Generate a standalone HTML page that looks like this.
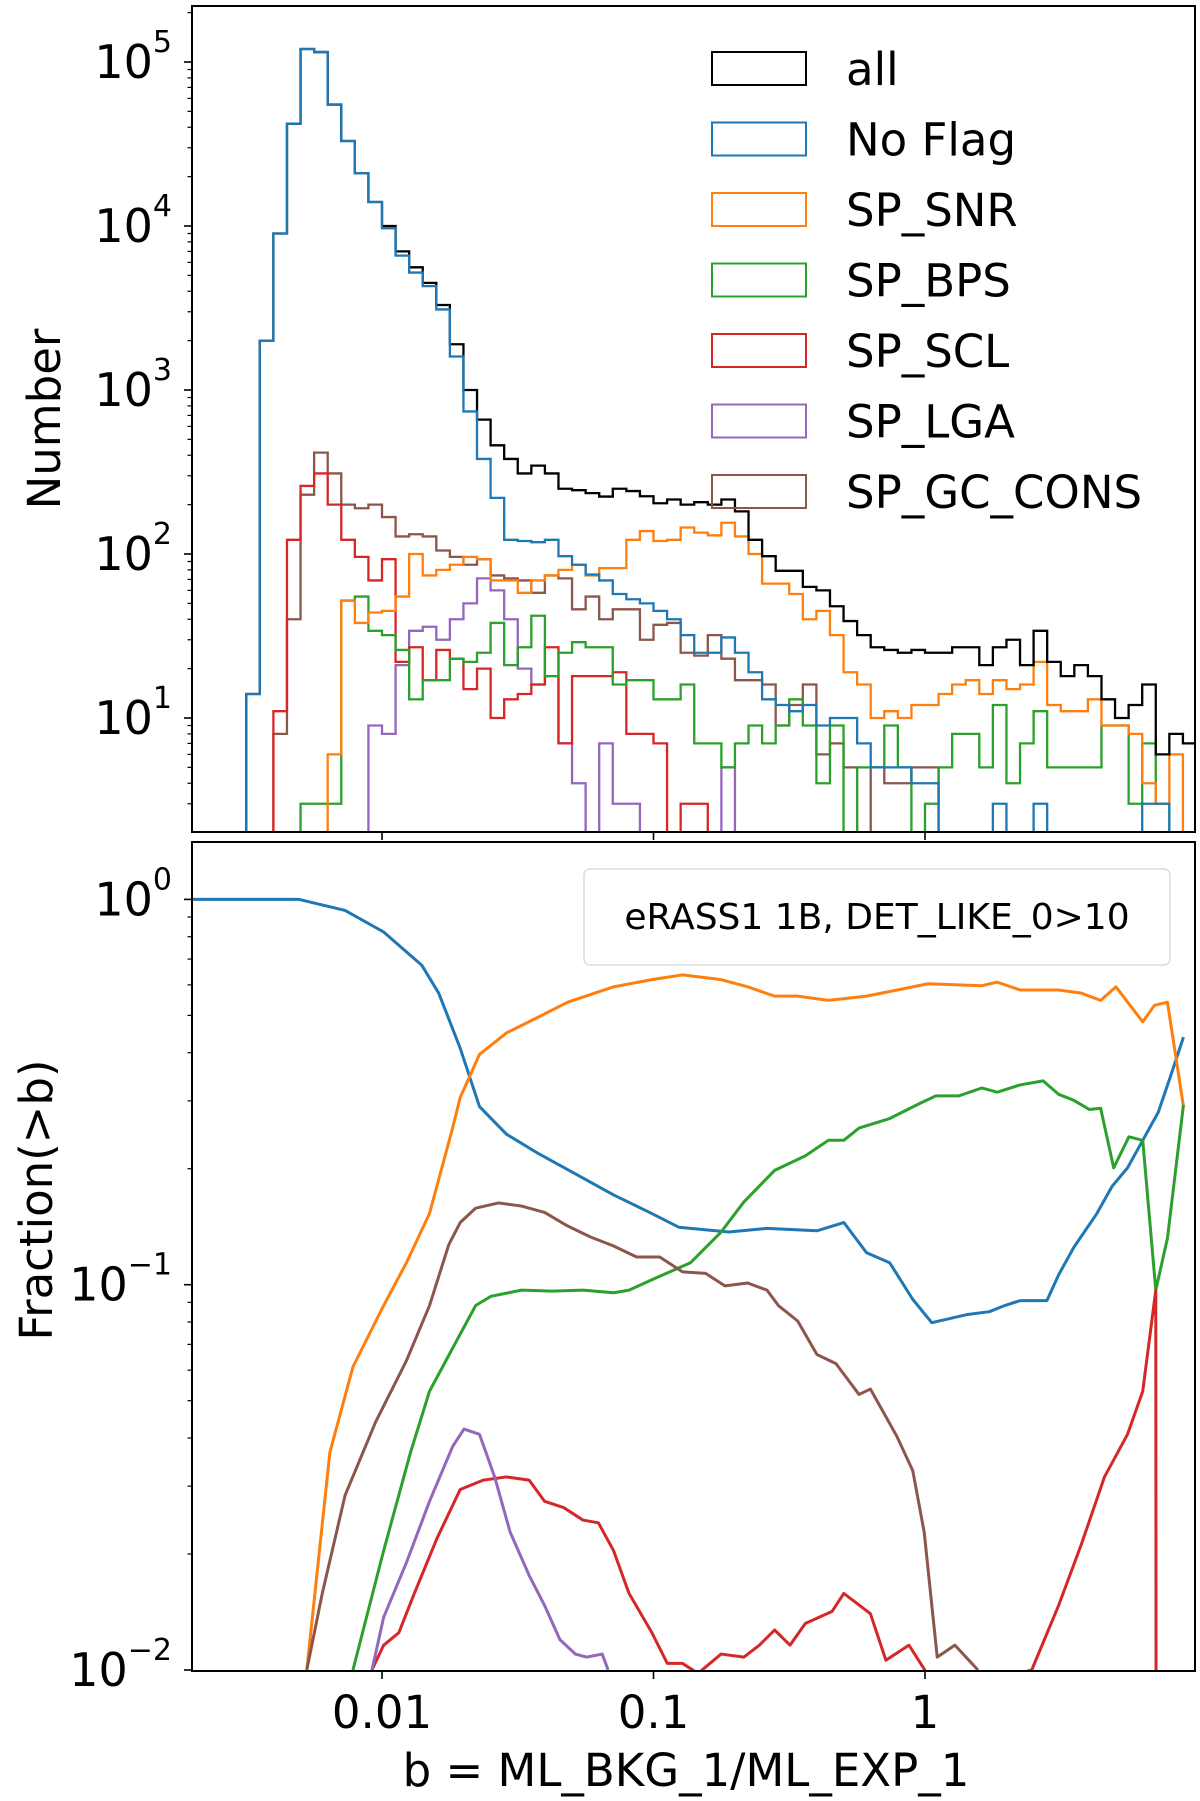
<!DOCTYPE html>
<html><head><meta charset="utf-8"><style>
body{margin:0;background:#fff;overflow:hidden;}
svg{display:block;font-family:"DejaVu Sans","Liberation Sans",sans-serif;}
</style></head><body>
<svg id="chart" width="1200" height="1801" viewBox="0 0 1200 1801"></svg>
<script>
// ---- data ----
const histEdgeStart = -2.5;      // log10(b) of first bin edge
const histBinWidth = 0.05;       // dex
const histAll   = [14,2000,9000,42000,120000,115000,55000,33000,21000,14000,10000,7000,5600,4500,3300,1900,1000,660,460,380,310,346,310,250,245,235,224,250,242,225,204,215,200,207,200,215,182,122,97,79,79,63,60,48,39,32,27,26,25,26,25,25,27,27,21,27,30,21,34,22,18,21,18,13,10,12,16,6,8,7];
const histNoFlag= [14,2000,9000,42000,120000,115000,55000,33000,21000,14000,9700,6600,5200,4300,3100,1600,740,380,220,122,120,118,122,97,86,75,69,57,53,50,45,40,32,25,25,31,25,19,13,12,11,12,9,10,10,7,5,5,5,4,4,0,0,0,0,3,0,0,3,0,0,0,0,0,0,0,3,3,0,0];
const histSNR   = [0,0,0,0,0,0,6,52,38,44,45,55,100,74,80,86,96,93,69,69,58,69,74,80,86,74,82,82,122,138,120,122,145,135,130,155,128,100,66,66,57,40,45,32,19,16,10,11,10,12,12,14,16,17,14,17,15,16,22,12,11,11,13,9,9,8,4,3,6,2];
const histBPS   = [0,0,0,0,3,3,3,52,55,34,32,26,13,17,17,23,22,25,38,21,27,42,18,25,29,27,27,16,17,17,13,13,16,7,7,5,7,9,7,9,13,9,4,9,2,5,5,9,5,2,3,5,8,8,5,12,4,7,11,5,5,5,5,9,9,3,7,3,2,2];
const histSCL   = [0,0,11,122,260,310,200,122,96,69,93,22,27,17,26,23,15,20,10,13,14,16,27,7,18,18,18,19,8,8,7,2,3,3,0,0,0,0,0,0,0,0,0,0,0,0,0,0,0,0,0,0,0,0,0,0,0,0,0,0,0,0,0,0,0,0,0,0,0,0];
const histLGA   = [0,0,0,0,0,0,0,0,0,9,8,21,34,36,30,40,50,71,60,40,20,16,18,7,4,2,7,3,3,0,0,0,0,0,0,5,0,0,0,0,0,0,0,0,0,0,0,0,0,0,0,0,0,0,0,0,0,0,0,0,0,0,0,0,0,0,0,0,0,0];
const histGC    = [0,0,8,40,230,415,310,200,190,200,168,128,132,128,105,96,86,93,74,71,69,58,74,71,46,55,40,46,46,30,37,38,25,24,32,23,17,17,16,9,12,16,6,7,5,2,5,4,4,5,5,0,0,0,0,0,0,0,0,0,0,0,0,0,0,0,0,0,0,0];

const fracNoFlagLogB = [-2.70,-2.305,-2.136,-1.994,-1.853,-1.791,-1.712,-1.641,-1.542,-1.429,-1.288,-1.147,-1.006,-0.907,-0.723,-0.582,-0.398,-0.299,-0.215,-0.130,-0.045,0.025,0.153,0.237,0.294,0.350,0.449,0.492,0.548,0.633,0.689,0.746,0.802,0.859,0.901,0.952];
const fracNoFlag     = [1.0,1.0,0.936,0.823,0.674,0.571,0.411,0.290,0.246,0.220,0.194,0.171,0.153,0.141,0.137,0.140,0.138,0.145,0.121,0.114,0.0916,0.0797,0.0836,0.0851,0.0883,0.0909,0.0909,0.106,0.125,0.153,0.180,0.201,0.237,0.280,0.342,0.439];
const fracSNRLogB = [-2.277,-2.192,-2.107,-1.994,-1.910,-1.825,-1.740,-1.712,-1.641,-1.542,-1.429,-1.316,-1.147,-1.006,-0.893,-0.751,-0.653,-0.554,-0.469,-0.356,-0.215,-0.102,0.011,0.209,0.266,0.350,0.492,0.576,0.647,0.703,0.802,0.845,0.893,0.952];
const fracSNR     = [0.01,0.0367,0.0612,0.0883,0.114,0.153,0.255,0.306,0.396,0.450,0.493,0.541,0.593,0.619,0.637,0.619,0.593,0.561,0.561,0.547,0.561,0.582,0.604,0.597,0.610,0.582,0.582,0.571,0.547,0.593,0.481,0.531,0.541,0.290];
const fracBPSLogB = [-2.107,-1.994,-1.895,-1.825,-1.740,-1.655,-1.599,-1.486,-1.373,-1.260,-1.147,-1.090,-1.006,-0.864,-0.751,-0.667,-0.554,-0.441,-0.356,-0.299,-0.243,-0.130,-0.017,0.040,0.124,0.209,0.266,0.350,0.435,0.492,0.548,0.605,0.647,0.695,0.751,0.802,0.850,0.893,0.952];
const fracBPS     = [0.01,0.0204,0.0367,0.0529,0.0684,0.0883,0.0933,0.0968,0.0962,0.0968,0.0953,0.0968,0.103,0.114,0.137,0.164,0.198,0.216,0.237,0.237,0.255,0.270,0.296,0.309,0.309,0.324,0.316,0.330,0.338,0.312,0.301,0.285,0.287,0.201,0.242,0.237,0.0968,0.132,0.293];
const fracSCLLogB = [-2.037,-1.994,-1.938,-1.881,-1.797,-1.712,-1.627,-1.542,-1.458,-1.401,-1.331,-1.260,-1.203,-1.147,-1.090,-1.006,-0.949,-0.893,-0.836,-0.751,-0.667,-0.610,-0.554,-0.497,-0.441,-0.342,-0.299,-0.201,-0.144,-0.059,0.011,0.322,0.393,0.492,0.576,0.661,0.746,0.802,0.850,0.851];
const fracSCL     = [0.01,0.0116,0.0125,0.0158,0.0220,0.0294,0.0311,0.0317,0.0311,0.0274,0.0264,0.0245,0.0241,0.0204,0.0158,0.0125,0.0104,0.0104,0.0098,0.0110,0.0108,0.0116,0.0127,0.0116,0.0132,0.0142,0.0158,0.0140,0.0106,0.0116,0.009,0.009,0.01,0.0147,0.0212,0.0317,0.0409,0.0529,0.0968,0.001];
const fracLGALogB = [-2.037,-1.994,-1.910,-1.825,-1.740,-1.698,-1.641,-1.585,-1.528,-1.458,-1.401,-1.345,-1.288,-1.246,-1.189,-1.167];
const fracLGA     = [0.01,0.0137,0.0190,0.0274,0.0380,0.0422,0.0409,0.0317,0.0228,0.0176,0.0147,0.0120,0.0110,0.0108,0.0110,0.01];
const fracGCLogB = [-2.277,-2.220,-2.136,-2.023,-1.910,-1.825,-1.754,-1.712,-1.655,-1.571,-1.486,-1.401,-1.316,-1.232,-1.147,-1.062,-0.977,-0.893,-0.808,-0.737,-0.653,-0.582,-0.540,-0.469,-0.398,-0.328,-0.243,-0.201,-0.102,-0.045,-0.003,0.045,0.110,0.195];
const fracGC     = [0.01,0.0158,0.0284,0.0441,0.0635,0.0883,0.127,0.145,0.158,0.163,0.160,0.154,0.142,0.133,0.126,0.118,0.118,0.108,0.107,0.0993,0.101,0.0968,0.0883,0.0805,0.0659,0.0624,0.0519,0.0536,0.0402,0.0329,0.0228,0.0108,0.0116,0.01];

const legendLabels = ["all","No Flag","SP_SNR","SP_BPS","SP_SCL","SP_LGA","SP_GC_CONS"];
const xTickVals = [-2,-1,0];
const xTickLabels = ["0.01","0.1","1"];
const topYTicks = [1,2,3,4,5];
const botYTicks = [0,-1,-2];

// ---- layout ----
const NS="http://www.w3.org/2000/svg";
const svg=document.getElementById('chart');
const X0=192,X1=1195;
const T={top:6,bot:832}, B={top:842,bot:1671};
const xS=l=>382+(l+2)*271.5;
const yTop=l=>Math.min(T.bot+4,62-(l-5)*164);
const yBot=l=>Math.min(B.bot+4,899.4-l*385.3);
const C={all:"#000000",nf:"#1f77b4",snr:"#ff7f0e",bps:"#2ca02c",scl:"#d62728",lga:"#9467bd",gc:"#8c564b"};
function mk(tag,attrs,parent){const e=document.createElementNS(NS,tag);for(const k in attrs)e.setAttribute(k,attrs[k]);(parent||svg).appendChild(e);return e;}

const defs=mk('defs',{});
const cp1=mk('clipPath',{id:'cTop'},defs);mk('rect',{x:X0,y:T.top,width:X1-X0,height:T.bot-T.top},cp1);
const cp2=mk('clipPath',{id:'cBot'},defs);mk('rect',{x:X0,y:B.top,width:X1-X0,height:B.bot-B.top},cp2);

// ---- top histogram ----
const gTop=mk('g',{'clip-path':'url(#cTop)'});


function histPath(vals){
  const lv=v=>v>0?Math.log10(v):-3;
  const base=T.bot+4;
  let d='M'+xS(histEdgeStart)+' '+base;
  vals.forEach((v,i)=>{const xa=xS(histEdgeStart+i*histBinWidth),xb=Math.min(X1+2,xS(histEdgeStart+(i+1)*histBinWidth)),y=yTop(lv(v));d+=' L'+xa+' '+y+' L'+xb+' '+y;});
  d+=' L'+Math.min(X1+2,xS(histEdgeStart+vals.length*histBinWidth))+' '+base;
  return d;
}
const hists=[[histGC,C.gc,'hist-sp-gc-cons'],[histLGA,C.lga,'hist-sp-lga'],[histSCL,C.scl,'hist-sp-scl'],[histBPS,C.bps,'hist-sp-bps'],[histSNR,C.snr,'hist-sp-snr'],[histAll,C.all,'hist-all'],[histNoFlag,C.nf,'hist-no-flag']];
hists.forEach(h=>{const p=mk('path',{d:histPath(h[0]),fill:'none',stroke:h[1],'stroke-width':2.3,'stroke-linejoin':'miter'},gTop);

});

// ---- bottom lines ----
const gBot=mk('g',{'clip-path':'url(#cBot)'});


const lines=[[fracNoFlagLogB,fracNoFlag,C.nf,'line-no-flag'],[fracSNRLogB,fracSNR,C.snr,'line-sp-snr'],[fracBPSLogB,fracBPS,C.bps,'line-sp-bps'],[fracSCLLogB,fracSCL,C.scl,'line-sp-scl'],[fracLGALogB,fracLGA,C.lga,'line-sp-lga'],[fracGCLogB,fracGC,C.gc,'line-sp-gc-cons']];
lines.forEach(l=>{const pts=l[0].map((x,i)=>Math.max(X0-4,xS(x))+','+yBot(Math.log10(l[1][i]))).join(' ');
const p=mk('polyline',{points:pts,fill:'none',stroke:l[2],'stroke-width':3,'stroke-linejoin':'round'},gBot);

});

// ---- axes frames & ticks ----
[T,B].forEach((P,k)=>{
  const r=mk('rect',{x:X0,y:P.top,width:X1-X0,height:P.bot-P.top,fill:'none',stroke:'#000','stroke-width':2});
  
  
  xTickVals.forEach(v=>mk('line',{x1:xS(v),x2:xS(v),y1:P.bot,y2:P.bot+8,stroke:'#000','stroke-width':1.6}));
});
function yTicks(vals,f,P,label){
  const lo=Math.min(...vals)-1,hi=Math.max(...vals)+1;
  for(let d=lo;d<=hi;d++){
    for(let m=1;m<10;m++){const y=f(d+Math.log10(m));if(y<P.top-0.5||y>P.bot+0.5)continue;
      mk('line',{x1:X0-(m===1?8:4.5),x2:X0,y1:y,y2:y,stroke:'#000','stroke-width':m===1?1.6:1.2});}
  }
  vals.forEach(v=>{const t=mk('text',{x:172,y:f(v)+16,'text-anchor':'end','font-size':46});
    
    
    const a=mk('tspan',{},t);a.textContent='10';
    const b=mk('tspan',{dy:-26,'font-size':30},t);b.textContent=(v<0?'\u2212'+(-v):''+v);});
}
yTicks(topYTicks,yTop,T,'y-top');
yTicks(botYTicks,yBot,B,'y-bottom');
xTickVals.forEach((v,i)=>{const t=mk('text',{x:xS(v),y:1728,'text-anchor':'middle','font-size':45});
  t.textContent=xTickLabels[i];
  
  });

// ---- labels ----
let t=mk('text',{x:686,y:1786,'text-anchor':'middle','font-size':45});t.textContent='b = ML_BKG_1/ML_EXP_1';

t=mk('text',{x:0,y:0,'text-anchor':'middle','font-size':45,transform:'translate(60,419) rotate(-90)'});t.textContent='Number';

t=mk('text',{x:0,y:0,'text-anchor':'middle','font-size':45,transform:'translate(52,1200) rotate(-90)'});t.textContent='Fraction(>b)';


// ---- top legend ----
const lcols=[C.all,C.nf,C.snr,C.bps,C.scl,C.lga,C.gc];
legendLabels.forEach((lab,i)=>{
  const g=mk('g',{});
  
  
  const y=52+i*70.5;
  mk('rect',{x:712,y:y,width:94,height:33,fill:'none',stroke:lcols[i],'stroke-width':2},g);
  const tx=mk('text',{x:846,y:y+33,'font-size':45},g);tx.textContent=lab;
});

// ---- bottom legend ----
const lg=mk('g',{});


mk('rect',{x:584,y:869,width:586,height:96,rx:6,fill:'#fff','fill-opacity':0.8,stroke:'#dcdcdc','stroke-width':1.5},lg);
const at=mk('text',{x:877,y:917+12,'text-anchor':'middle','font-size':36},lg);at.textContent='eRASS1 1B, DET_LIKE_0>10';
</script>
</body></html>
